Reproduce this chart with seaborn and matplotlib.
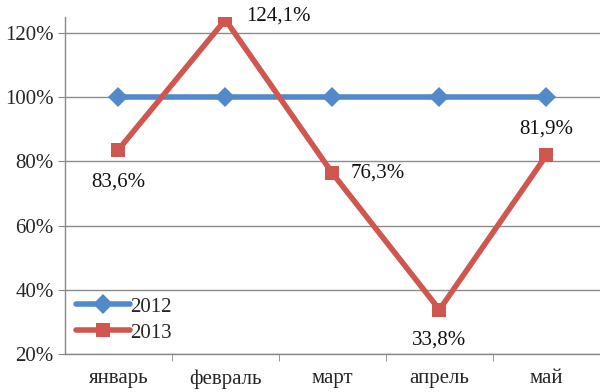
import pandas as pd
import matplotlib.pyplot as plt
import seaborn as sns
from matplotlib.ticker import FixedLocator, PercentFormatter

months = ["январь", "февраль", "март", "апрель", "май"]
vals_2012 = [100, 100, 100, 100, 100]
vals_2013 = [83.6, 124.1, 76.3, 33.8, 81.9]
labels_2013 = ["83,6%", "124,1%", "76,3%", "33,8%", "81,9%"]

df = pd.DataFrame({
    "month": months * 2,
    "value": vals_2012 + vals_2013,
    "year": ["2012"] * 5 + ["2013"] * 5,
})

sns.set_style("white")
plt.rcParams["font.family"] = ["Liberation Serif", "DejaVu Serif"]
fs = 15

fig = plt.figure(figsize=(6, 3.92), dpi=100)
ax = fig.add_axes([0.108, 0.097, 0.892, 0.86])

palette = {"2012": "#5289C9", "2013": "#CF5750"}
sns.lineplot(data=df, x="month", y="value", hue="year", style="year",
             markers={"2012": "D", "2013": "s"}, dashes=False,
             palette=palette, linewidth=4.0, markersize=10,
             markeredgewidth=0, sort=False, ax=ax)

# data labels for 2013
offsets = [(0, -23, "center"), (15, 3, "left"), (13, 0, "left"),
           (0, -22, "center"), (0, 19, "center")]
for i, (v, lab) in enumerate(zip(vals_2013, labels_2013)):
    dx, dy, ha = offsets[i]
    ax.annotate(lab, (i, v), xytext=(dx, dy), textcoords="offset points",
                ha=ha, va="center", fontsize=fs, color="#111111")

ax.set_xlim(-0.5, 4.5)
ax.set_ylim(20, 125)
ax.set_yticks([20, 40, 60, 80, 100, 120])
ax.yaxis.set_major_formatter(PercentFormatter(decimals=0))
ax.set_xticks(range(5))
ax.set_xticklabels(months)
ax.xaxis.set_minor_locator(FixedLocator([0.5, 1.5, 2.5, 3.5, 4.5]))
ax.tick_params(axis="x", which="major", length=0, pad=11, labelsize=fs)
ax.tick_params(axis="x", which="minor", length=5, color="#888888", bottom=True)
ax.tick_params(axis="y", length=5, color="#888888", left=True, labelsize=fs, pad=3)
ax.grid(axis="y", color="#8c8c8c", linewidth=1)
ax.set_axisbelow(True)
ax.set_xlabel("")
ax.set_ylabel("")
for s in ["top", "right"]:
    ax.spines[s].set_visible(False)
for s in ["left", "bottom"]:
    ax.spines[s].set_color("#888888")
    ax.spines[s].set_linewidth(1)

ax.legend(title=None, loc="lower left", bbox_to_anchor=(0.0, 0.0),
          frameon=False, fontsize=fs, handlelength=2.6, handletextpad=0.0,
          labelspacing=0.3, borderaxespad=0.15)

fig.savefig("out.png", dpi=100)
